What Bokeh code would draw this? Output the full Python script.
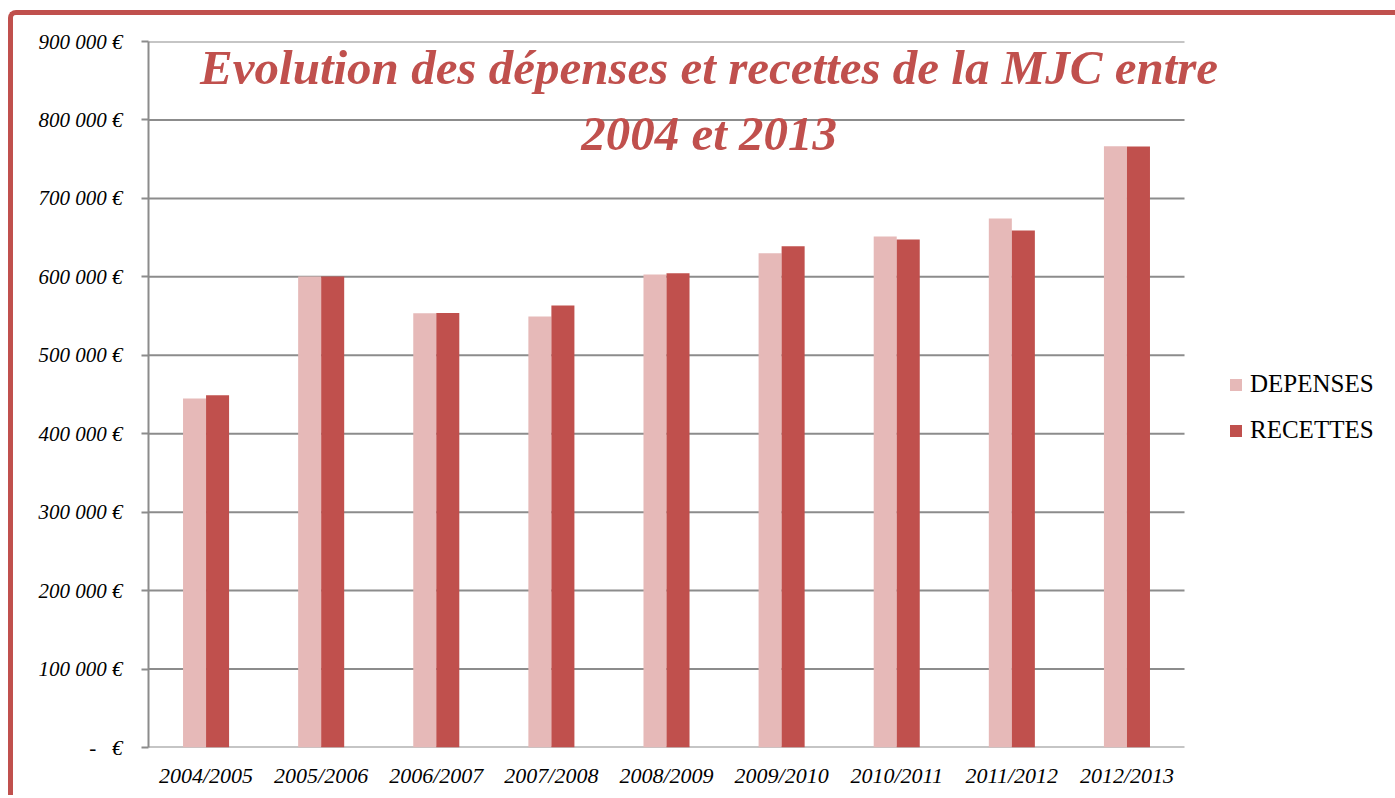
from bokeh.plotting import figure
from bokeh.models import (FixedTicker, Range1d, Label, Legend, LegendItem,
                          ColumnDataSource)
from bokeh.embed import file_html
from bokeh.resources import INLINE

categories = ["2004/2005", "2005/2006", "2006/2007", "2007/2008", "2008/2009",
              "2009/2010", "2010/2011", "2011/2012", "2012/2013"]
depenses = [445000, 600500, 553500, 549500, 603000, 630000, 651500, 674500, 766500]
recettes = [449000, 600500, 554000, 563500, 604500, 639000, 647500, 659000, 766000]
y_ticks = [0, 100000, 200000, 300000, 400000, 500000, 600000, 700000, 800000, 900000]
y_tick_labels = ["-\u00a0\u00a0\u00a0€", "100 000 €", "200 000 €", "300 000 €", "400 000 €",
                 "500 000 €", "600 000 €", "700 000 €", "800 000 €", "900 000 €"]
title_lines = ["Evolution des dépenses et recettes de la MJC entre", "2004 et 2013"]

RED = "#C0504D"
PINK = "#E6B9B8"
GRID = "#8C8C8C"

n = len(categories)
centers = [i + 0.5 for i in range(n)]
src = ColumnDataSource(dict(c=centers, dep=depenses, rec=recettes))
grid_src = ColumnDataSource(dict(y=y_ticks, x0=[0] * len(y_ticks), x1=[n] * len(y_ticks)))

p = figure(x_range=Range1d(0, 9.33), y_range=Range1d(0, 900000),
           frame_width=1074, frame_height=706,
           min_border_left=135, min_border_right=170,
           min_border_top=26, min_border_bottom=48,
           output_backend="svg", toolbar_location=None,
           background_fill_color="white", border_fill_color="white")
p.outline_line_color = None
p.styles = {"border-top": "5px solid " + RED, "border-left": "5px solid " + RED,
            "border-top-left-radius": "8px", "margin-top": "10px", "margin-left": "8px"}

# horizontal gridlines (limited to the category span)
p.segment(x0="x0", x1="x1", y0="y", y1="y", source=grid_src,
          line_color=GRID, line_width=2)

from bokeh.transform import dodge
r1 = p.vbar(x=dodge("c", -0.1), top="dep", width=0.2,
            source=src, fill_color=PINK, line_color=None)
r2 = p.vbar(x=dodge("c", 0.1), top="rec", width=0.2,
            source=src, fill_color=RED, line_color=None)

# axes
p.yaxis.ticker = FixedTicker(ticks=y_ticks)
p.yaxis.major_label_overrides = {t: l for t, l in zip(y_ticks, y_tick_labels)}
p.yaxis.major_label_text_font = "Liberation Serif"
p.yaxis.major_label_text_font_style = "italic"
p.yaxis.major_label_text_font_size = "21px"
p.yaxis.major_label_text_color = "black"
p.yaxis.major_tick_out = 7
p.yaxis.major_tick_in = 0
p.yaxis.minor_tick_line_color = None
p.yaxis.major_tick_line_color = GRID
p.yaxis.major_tick_line_width = 2
p.yaxis.axis_line_color = GRID
p.yaxis.axis_line_width = 2
p.yaxis.major_label_standoff = 19

p.xaxis.ticker = FixedTicker(ticks=centers)
p.xaxis.major_label_overrides = {c: l for c, l in zip(centers, categories)}
p.xaxis.minor_tick_line_color = None
p.xaxis.major_tick_line_color = None
p.xaxis.major_tick_out = 0
p.xaxis.major_tick_in = 0
p.xaxis.axis_line_color = None
p.xaxis.major_label_text_font = "Liberation Serif"
p.xaxis.major_label_text_font_style = "italic"
p.xaxis.major_label_text_font_size = "22px"
p.xaxis.major_label_text_color = "black"
p.xaxis.major_label_standoff = 15

p.xgrid.grid_line_color = None
p.ygrid.grid_line_color = None

# title inside the plot area
for line, yv in zip(title_lines, [867000, 783000]):
    p.add_layout(Label(x=4.87, y=yv, text=line, text_align="center",
                       text_baseline="middle", text_font="Liberation Serif",
                       text_font_style="bold italic", text_font_size="49px",
                       text_color=RED))

legend = Legend(items=[LegendItem(label="DEPENSES", renderers=[r1]),
                       LegendItem(label="RECETTES", renderers=[r2])],
                location=(6, 303), orientation="vertical",
                glyph_width=15, glyph_height=15, label_standoff=7,
                spacing=18, padding=0, margin=0,
                label_text_font="Liberation Serif", label_text_font_size="25px",
                label_text_color="black",
                border_line_color=None, background_fill_alpha=0)
p.add_layout(legend, "right")

open("out.html", "w").write(file_html(p, INLINE))
